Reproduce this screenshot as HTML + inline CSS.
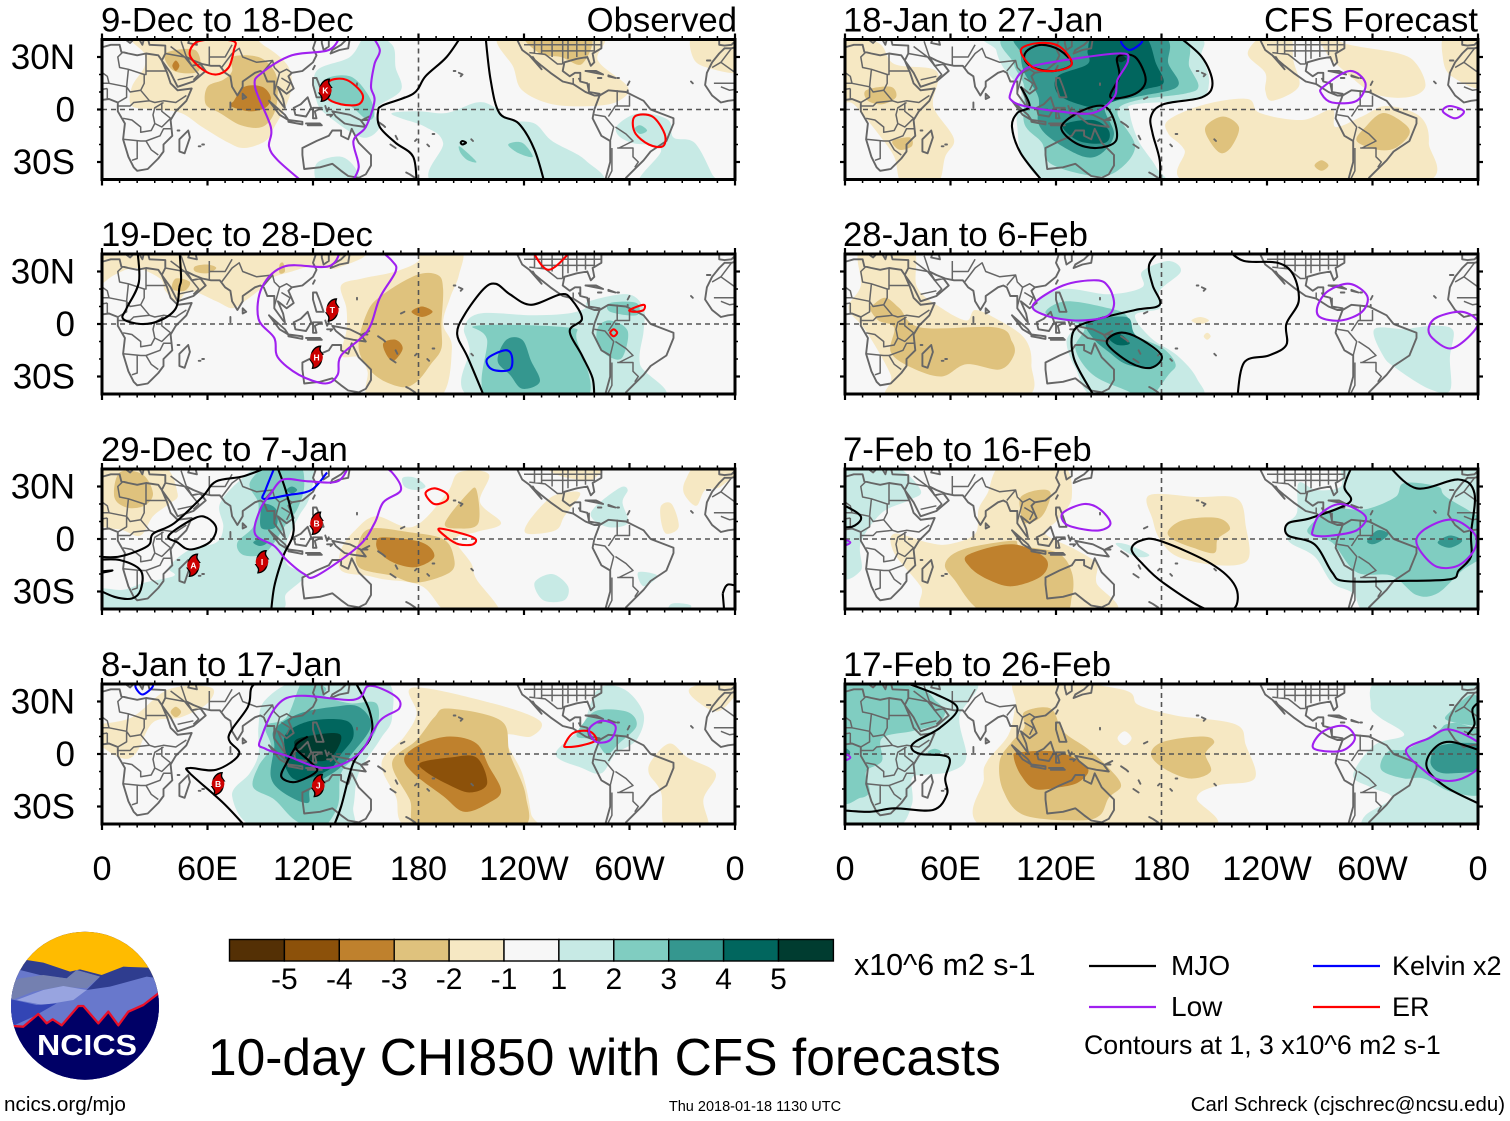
<!DOCTYPE html>
<html lang="en">
<head>
<meta charset="utf-8">
<title>10-day CHI850 with CFS forecasts</title>
<style>
html,body{margin:0;padding:0;background:#fff;width:1510px;height:1121px;overflow:hidden}
svg{display:block}
text{font-family:"Liberation Sans",sans-serif;fill:#000}
</style>
</head>
<body>
<svg id="chart" xmlns="http://www.w3.org/2000/svg" width="1510" height="1121" viewBox="0 0 1510 1121">
  <rect x="0" y="0" width="1510" height="1121" fill="#fff"/>
  <g id="panels"></g>
  <g id="colorbar"></g>
  <text x="854" y="975" font-size="30.4">x10^6 m2 s-1</text>
  <text x="208" y="1075" font-size="51.5">10-day CHI850 with CFS forecasts</text>
  <g>
    <line x1="1089" x2="1156" y1="966" y2="966" stroke="#000" stroke-width="2.2"/>
    <text x="1171" y="975" font-size="28">MJO</text>
    <line x1="1089" x2="1156" y1="1007" y2="1007" stroke="#a020f0" stroke-width="2.2"/>
    <text x="1171" y="1016" font-size="28">Low</text>
    <line x1="1313" x2="1380" y1="966" y2="966" stroke="#0000ff" stroke-width="2.2"/>
    <text x="1392" y="975" font-size="27">Kelvin x2</text>
    <line x1="1313" x2="1380" y1="1007" y2="1007" stroke="#ff0000" stroke-width="2.2"/>
    <text x="1392" y="1016" font-size="27">ER</text>
    <text x="1084" y="1054" font-size="26.7">Contours at 1, 3 x10^6 m2 s-1</text>
  </g>
  <g>
    <clipPath id="logoClip"><circle cx="85" cy="1005.7" r="74"/></clipPath>
    <g clip-path="url(#logoClip)">
      <rect x="0" y="920" width="170" height="180" fill="#000066"/>
      <g transform="translate(0,920) scale(0.33333)">
        <rect x="0" y="0" width="510" height="220" fill="#ffbb00"/>
        <path d="M0 180L80 120L130 128L210 155L240 148L305 165L370 140L445 143L510 200L510 340L0 340Z" fill="#2f3d8f"/>
        <path d="M0 240L30 190L60 150L120 165L200 175L230 150L300 170L260 210L330 200L440 170L510 180L510 340L0 340Z" fill="#6878cc"/>
        <path d="M30 190L60 175L130 165L200 175L230 150L300 170L260 205L180 200L100 215L35 240Z" fill="#7480b0"/>
        <path d="M50 240L130 210L190 198L260 210L220 240L130 255Z" fill="#98a4e0"/>
        <path d="M20 235L110 255L170 250L100 290L45 315L10 320Z" fill="#3345b5"/>
        <path d="M0 318L40 318L70 320L115 282L140 310L158 298L185 316L235 258L250 258L295 310L325 275L355 316L385 275L430 255L510 200L510 520L0 520Z" fill="#000066"/>
        <path d="M40 318L70 320L115 282L140 310L158 298L185 316L235 258L250 258L295 310L325 275L355 316L385 275L430 255L478 218" fill="none" stroke="#e8102a" stroke-width="7" stroke-linejoin="round"/>
      </g>
      <text x="37" y="1055" font-size="29" font-weight="bold" textLength="100" lengthAdjust="spacingAndGlyphs" style="fill:#fff">NCICS</text>
    </g>
  </g>
  <text x="4" y="1111" font-size="20.7">ncics.org/mjo</text>
  <text x="755" y="1111" font-size="14.5" text-anchor="middle">Thu 2018-01-18 1130 UTC</text>
  <text x="1505" y="1111" font-size="20.4" text-anchor="end">Carl Schreck (cjschrec@ncsu.edu)</text>
</svg>
<script>
// ---------- colour scale and axis labels ----------
const binColors = ['#543005','#8c510a','#bf812d','#dfc27d','#f6e8c3','#f7f7f7','#c7eae5','#80cdc1','#35978f','#01665e','#003c30'];
const binLabels = ['-5','-4','-3','-2','-1','1','2','3','4','5'];
const lonTicks = [0,60,120,180,240,300,360];
const lonTickLabels = ['0','60E','120E','180','120W','60W','0'];
const latTicks = [30,0,-30];
const latTickLabels = ['30N','0','30S'];
const lineColors = {mjo:'#000000',low:'#a020f0',kelvin:'#0000ff',er:'#ff0000'};

// ---------- panel 1: 9-Dec to 18-Dec ----------
const shade1 = [
[-1,[[19,39],[77,39],[93,36],[105,26],[108,15],[105,3],[98,-10],[93,-18],[81,-22],[72,-19],[57,-10],[45,-2],[31,0],[17,2],[17,13],[24,24],[24,32]]],
[-2,[[74,30],[89,30],[98,22],[100,11],[98,-2],[91,-10],[79,-9],[67,-2],[59,3],[60,13],[69,17],[74,22]]],
[-2,[[36,32],[53,34],[55,22],[41,22]]],
[-3,[[40,25],[42,28],[44,25],[42,22]]],
[-3,[[75,5],[81,13],[91,13],[96,7],[93,1],[84,-1],[73,2]]],
[-1,[[227,39],[283,39],[282,28],[299,13],[294,5],[280,2],[256,3],[239,11],[234,24]]],
[-2,[[241,39],[277,39],[273,26],[261,30],[249,32]]],
[-1,[[337,39],[360,39],[360,22],[344,24],[336,30]]],
[1,[[151,39],[165,37],[167,24],[170,11],[155,0],[158,-10],[148,-16],[129,-4],[122,5],[122,22],[141,30]]],
[2,[[127,17],[141,19],[151,9],[155,-2],[151,-6],[141,2],[129,5]]],
[1,[[122,-31],[136,-27],[145,-35],[144,-39],[124,-39]]],
[1,[[165,-2],[180,-1],[196,-2],[213,4],[222,2],[232,-6],[246,-8],[256,-18],[275,-29],[280,-39],[191,-39],[194,-19],[184,-10],[170,-5]]],
[2,[[203,-21],[207,-24],[213,-30],[208,-29],[204,-25]]],
[2,[[231,-20],[239,-19],[245,-27],[237,-25]]],
[1,[[294,-8],[306,-2],[322,-6],[325,-16],[337,-19],[347,-37],[349,-39],[306,-39],[318,-23],[301,-19],[293,-14]]],
[2,[[303,-11],[306,-9],[310,-12],[306,-14]]]
];
const lines1 = [
['mjo',false,[[205,39],[196,30],[184,19],[177,9],[160,2.5],[157,-1],[158,-10],[167,-19],[177,-27],[179,-39]]],
['mjo',false,[[218,39],[221,17],[226,-2],[237,-8],[246,-23],[252,-39]]],
['mjo',true,[[204,-19],[205,-18],[207,-19],[205,-20]]],
['low',false,[[136,39],[129,34],[108,31],[91,21],[87,13],[96,-10],[95,-21],[100,-29],[116,-39]]],
['low',false,[[153,39],[158,34],[155,26],[153,13],[155,5],[150,-10],[143,-18],[146,-33],[141,-39]]],
['er',true,[[53,38],[62,40],[75,39],[75,34],[72,24],[65,20],[57,23],[50,31]]],
['er',true,[[129,16],[139,17],[148,9],[146,3],[136,3],[128,7]]],
['er',true,[[303,-4],[313,-4],[320,-14],[319,-21],[311,-20],[303,-13]]]
];
const storms1 = [['K',127,11]];

// ---------- panel 2: 19-Dec to 28-Dec ----------
const shade2 = [
[-1,[[0,39],[141,39],[134,32],[120,33],[108,30],[96,26],[89,19],[81,13],[74,9],[65,13],[50,19],[43,13],[36,19],[33,26],[19,32],[7,28],[0,22]]],
[-2,[[53,33],[60,34],[65,32],[60,29],[53,30]]],
[-2,[[42,26],[50,24],[47,19],[40,20]]],
[-2,[[101,34],[103,35],[104,30],[101,29]]],
[-1,[[180,39],[204,39],[203,28],[198,15],[194,0],[199,-14],[191,-39],[153,-39],[151,-27],[146,-19],[136,-18],[139,-4],[139,9],[136,22],[148,26],[167,30],[180,36]]],
[-2,[[179,28],[191,28],[194,20],[193,0],[193,-14],[187,-23],[179,-33],[170,-36],[155,-29],[146,-14],[151,7],[160,17]]],
[-3,[[176,7],[182,10],[188,7],[182,4]]],
[-3,[[160,-11],[167,-9],[171,-14],[166,-21],[162,-18]]],
[1,[[206,-2],[215,6],[244,5],[265,6],[275,9],[277,13],[299,17],[308,9],[308,-4],[306,-23],[316,-39],[213,-39],[209,-14]]],
[2,[[213,-1],[265,-2],[270,-9],[275,-39],[220,-39],[219,-9]]],
[3,[[230,-9],[239,-9],[244,-21],[249,-33],[239,-37],[232,-29],[225,-21]]],
[2,[[282,-2],[289,2],[299,-4],[296,-19],[289,-19],[282,-12]]],
[2,[[289,12],[304,12],[304,5],[289,7]]]
];
const lines2 = [
['mjo',false,[[20,39],[21,24],[14,9],[12,3],[22,0],[33,2],[42,9],[44,21],[45,26],[44,39]]],
['mjo',false,[[218,-39],[208,-19],[202,-6],[206,5],[217,20],[224,23],[232,17],[244,11],[261,17],[267,14],[273,3],[266,-4],[273,-18],[279,-31],[280,-39]]],
['low',false,[[136,39],[129,33],[104,33],[91,21],[89,3],[98,-8],[100,-19],[112,-29],[127,-34],[134,-29],[136,-18],[151,-4],[158,15],[167,30],[165,36],[157,39]]],
['kelvin',true,[[219,-20],[229,-15],[233,-18],[232,-26],[222,-26]]],
['er',false,[[244,39],[254,31],[268,39]]],
['er',true,[[300,8],[308,11],[308,8],[303,7]]],
['er',true,[[289,-5],[291,-3],[293,-5],[291,-7]]]
];
const storms2 = [['T',131,8],['H',122,-19]];

// ---------- panel 3: 29-Dec to 7-Jan ----------
const shade3 = [
[-1,[[0,39],[33,39],[43,26],[38,20],[29,13],[22,2],[12,5],[0,11]]],
[-2,[[10,38],[23,37],[29,26],[24,19],[14,18],[7,24]]],
[1,[[0,-39],[0,-29],[12,-29],[24,-25],[41,-21],[38,-16],[50,-6],[65,-2],[69,7],[67,20],[79,34],[93,39],[119,39],[118,24],[112,13],[105,-2],[105,-14],[115,-21],[105,-31],[93,-39]]],
[2,[[84,32],[96,39],[112,39],[115,30],[111,17],[105,9],[98,-2],[91,-9],[80,-9],[77,-2],[86,7],[89,20]]],
[3,[[92,20],[99,17],[99,7],[91,6],[90,13]]],
[3,[[86,-2],[90,0],[94,-2],[90,-4]]],
[3,[[105,28],[108,30],[111,28],[108,26]]],
[1,[[171,35],[178,35],[184,30],[178,28],[172,30]]],
[1,[[278,15],[294,29],[299,28],[296,21],[299,9],[287,7]]],
[1,[[246,-25],[256,-20],[265,-27],[263,-35],[251,-35]]],
[1,[[305,-19],[316,-21],[308,-27]]],
[1,[[324,-37],[335,-38],[330,-41],[322,-41]]],
[-1,[[242,9],[253,22],[261,26],[272,26],[263,13],[258,5],[242,3]]],
[-1,[[253,39],[284,39],[279,34],[270,34],[258,37]]],
[-1,[[318,19],[324,20],[328,7],[321,3],[318,10]]],
[-1,[[332,34],[340,39],[360,39],[352,30],[343,28],[338,19],[331,26]]],
[-1,[[144,5],[156,13],[177,7],[196,26],[203,38],[220,37],[215,21],[227,9],[213,4],[201,0],[210,-14],[213,-23],[226,-39],[198,-39],[182,-27],[160,-23],[151,-21],[136,-18],[136,-6]]],
[-2,[[146,-2],[153,6],[174,4],[194,0],[200,-10],[198,-19],[179,-25],[165,-21],[146,-16]]],
[-2,[[195,9],[208,26],[213,28],[214,9],[203,6]]],
[-3,[[156,-2],[160,1],[182,-2],[189,-10],[179,-16],[167,-14],[158,-8]]]
];
const lines3 = [
['mjo',false,[[99,39],[81,36],[65,33],[57,24],[41,9],[29,3],[26,-4],[10,-10],[0,-10]]],
['mjo',true,[[38,2],[53,12],[60,12],[65,6],[61,-2],[50,-6],[43,-2]]],
['mjo',false,[[99,39],[105,26],[109,5],[103,-10],[98,-27],[96,-39]]],
['mjo',false,[[0,-12],[10,-12],[22,-18],[22,-29],[17,-34],[7,-33],[0,-28]]],
['mjo',false,[[0,-19],[6,-18],[0,-20]]],
['mjo',false,[[353,-31],[356,-26],[360,-28]]],
['mjo',false,[[353,-31],[354,-39]]],
['kelvin',false,[[99,39],[93,28],[92,23],[105,25],[119,28],[128,38]]],
['low',false,[[96,26],[103,34],[117,33],[134,33],[141,39]]],
['low',false,[[96,26],[90,17],[87,3],[98,-4],[105,-12],[115,-20],[122,-21],[146,-4],[155,9],[160,21],[170,28],[165,38],[157,39]]],
['er',true,[[184,26],[189,29],[196,26],[196,22],[189,20]]],
['er',true,[[192,6],[211,1],[211,-3],[203,-3],[196,1]]]
];
const storms3 = [['A',52,-15],['I',91,-13],['B',122,9]];

// ---------- panel 4: 8-Jan to 17-Jan ----------
const shade4 = [
[-1,[[0,16],[17,21],[38,37],[62,38],[60,29],[45,21],[29,18],[19,0],[10,-2],[0,8]]],
[-2,[[39,24],[42,27],[45,24],[42,21]]],
[1,[[93,31],[115,39],[160,39],[165,21],[158,8],[146,-11],[143,-30],[139,-39],[89,-39],[74,-24],[84,-11],[89,0],[89,16]]],
[2,[[115,39],[127,38],[127,33],[141,29],[156,29],[156,14],[146,0],[136,-11],[134,-30],[124,-39],[110,-38],[98,-26],[86,-19],[89,-7],[96,4],[93,16],[105,21]]],
[3,[[98,4],[98,14],[112,23],[132,27],[146,27],[153,16],[142,0],[134,-9],[119,-19],[117,-28],[103,-22],[96,-13]]],
[4,[[104,2],[105,12],[119,19],[139,19],[143,10],[136,0],[129,-9],[112,-15],[105,-9]]],
[5,[[110,4],[112,9],[132,12],[136,8],[129,-3],[117,-3]]],
[1,[[258,0],[273,16],[282,37],[297,37],[308,23],[304,8],[292,0],[284,-11],[273,-8]]],
[2,[[274,18],[282,25],[299,24],[304,16],[294,6],[287,0],[280,8],[270,10]]],
[-1,[[177,38],[222,29],[249,19],[244,10],[229,10],[239,-11],[244,-34],[244,-39],[177,-39],[167,-24],[159,-5],[172,10],[179,23]]],
[-2,[[197,26],[227,19],[232,0],[241,-24],[237,-39],[182,-39],[175,-26],[165,-5],[179,8],[189,21]]],
[-3,[[172,-2],[182,6],[198,10],[213,6],[220,-7],[227,-21],[220,-28],[206,-33],[194,-24],[177,-11]]],
[-4,[[181,-5],[198,-2],[213,-2],[219,-17],[209,-22],[196,-17],[184,-10]]],
[-1,[[313,-3],[323,6],[333,-2],[349,-11],[342,-26],[344,-39],[321,-39],[318,-22],[311,-11]]],
[-1,[[335,38],[360,39],[352,25],[340,29]]]
];
const lines4 = [
['mjo',false,[[91,39],[85,38],[83,27],[72,10],[78,0],[65,-9],[50,-8],[50,-11],[69,-28],[83,-39]]],
['mjo',false,[[143,39],[152,25],[153,10],[143,-5],[136,-30],[131,-39]]],
['mjo',false,[[117,10],[110,4],[119,-5],[122,-10],[110,-16],[102,-13],[105,-5],[110,4]]],
['low',true,[[90,8],[105,32],[143,31],[152,39],[167,33],[169,26],[158,19],[146,0],[127,-8],[105,-1],[93,3]]],
['kelvin',true,[[19,39],[23,34],[29,39],[24,41]]],
['er',true,[[263,5],[268,12],[277,13],[281,8],[273,5],[265,4]]],
['low',true,[[277,14],[284,19],[292,16],[289,8],[281,7]]]
];
const storms4 = [['B',66,-17],['J',123,-18]];

// ---------- panel 5: 18-Jan to 27-Jan ----------
const shade5 = [
[-1,[[0,39],[19,38],[28,26],[52,22],[50,5],[52,-2],[62,-17],[57,-27],[52,-39],[33,-39],[28,-27],[19,-14],[5,3],[0,7]]],
[-2,[[12,11],[26,13],[29,7],[21,3],[13,5]]],
[-2,[[27,-18],[37,-16],[38,-21],[31,-23]]],
[-1,[[184,-6],[205,3],[229,6],[236,-2],[260,-6],[277,0],[279,-10],[294,-4],[308,2],[327,-4],[332,-19],[325,-39],[200,-39],[193,-23],[184,-14]]],
[-2,[[205,-10],[215,-4],[224,-10],[220,-21],[214,-25],[208,-19]]],
[-2,[[267,-32],[271,-29],[275,-32],[271,-35]]],
[-2,[[296,-10],[306,-2],[318,-8],[321,-14],[313,-22],[303,-23],[291,-18]]],
[-1,[[229,32],[239,39],[253,39],[255,28],[258,13],[243,5],[239,11],[239,21]]],
[-1,[[270,39],[287,37],[315,32],[325,26],[330,13],[320,7],[301,9],[284,22],[274,32]]],
[-1,[[342,39],[360,39],[360,13],[345,19],[340,30]]],
[1,[[86,39],[193,39],[203,30],[207,15],[200,6],[165,3],[162,-2],[167,-18],[177,-33],[179,-39],[121,-39],[102,-29],[98,-10],[98,0],[100,11],[90,24],[86,34]]],
[2,[[95,39],[186,39],[196,24],[201,13],[193,9],[165,5],[155,-2],[165,-21],[155,-35],[141,-38],[117,-31],[112,-19],[102,-8],[102,13],[96,26]]],
[3,[[102,39],[177,39],[184,26],[189,13],[165,7],[148,2],[153,-14],[146,-25],[136,-27],[119,-18],[110,-8],[110,7],[102,21],[100,32]]],
[4,[[143,39],[169,39],[177,26],[181,15],[169,11],[145,2],[133,3],[121,9],[121,19],[138,26],[138,34]]],
[4,[[124,-9],[141,-6],[150,-12],[148,-19],[133,-18]]],
[5,[[154,29],[157,31],[160,29],[157,27]]]
];
const lines5 = [
['mjo',false,[[188,39],[203,30],[209,15],[203,7],[181,3],[174,-4],[175,-14],[179,-29],[179,-39]]],
['mjo',false,[[114,-39],[100,-25],[95,-10],[98,-2],[105,2],[100,13]]],
['mjo',true,[[104,34],[112,37],[122,34],[129,26],[119,22],[107,24],[102,29]]],
['mjo',true,[[155,30],[165,30],[171,17],[165,9],[151,7],[156,19]]],
['mjo',true,[[123,-10],[134,-1],[147,2],[153,-6],[154,-18],[143,-22],[131,-19]]],
['low',true,[[94,9],[100,21],[112,26],[155,32],[161,28],[155,17],[153,7],[141,-2],[121,-1],[102,2],[95,5]]],
['er',true,[[100,34],[110,38],[122,36],[129,26],[119,22],[107,24]]],
['kelvin',true,[[157,39],[162,34],[169,39],[163,41]]],
['low',true,[[272,13],[287,22],[296,15],[291,5],[277,4],[271,9]]],
['low',true,[[340,-1],[344,2],[352,-1],[347,-5]]]
];
const storms5 = [];

// ---------- panel 6: 28-Jan to 6-Feb ----------
const shade6 = [
[-1,[[9,39],[38,39],[41,21],[55,9],[69,2],[74,8],[86,3],[102,-8],[106,-23],[100,-39],[28,-39],[26,-29],[12,-4],[2,9],[9,22]]],
[-2,[[16,11],[23,15],[31,9],[43,-2],[86,-2],[95,-10],[96,-18],[88,-26],[69,-23],[55,-30],[38,-25],[26,-16],[28,-2],[19,2],[14,9]]],
[-1,[[197,2],[202,4],[207,2],[202,0]]],
[-1,[[204,-7],[206,-5],[208,-7],[206,-9]]],
[1,[[107,11],[124,20],[150,17],[169,21],[169,30],[184,36],[191,30],[179,19],[179,9],[165,5],[174,-8],[189,-18],[200,-31],[200,-39],[145,-39],[131,-25],[126,-10],[131,0],[117,3]]],
[2,[[114,7],[126,13],[150,9],[160,5],[165,-6],[181,-14],[188,-23],[184,-29],[172,-39],[160,-38],[141,-29],[131,-14],[136,-2],[122,3]]],
[3,[[138,1],[160,4],[165,-6],[179,-18],[174,-25],[160,-23],[150,-16],[141,-8]]],
[4,[[150,-8],[155,-5],[162,-11],[155,-12]]],
[1,[[301,-3],[318,-3],[325,-2],[337,-1],[346,-4],[344,-19],[344,-38],[332,-37],[313,-25],[306,-18]]]
];
const lines6 = [
['mjo',false,[[180,39],[173,34],[175,22],[179,11],[165,8],[141,2],[130,-4],[130,-19],[138,-35],[143,-39]]],
['mjo',true,[[149,-11],[156,-5],[167,-8],[180,-18],[174,-25],[162,-22]]],
['mjo',false,[[217,39],[227,36],[246,35],[255,28],[258,13],[251,0],[251,-12],[241,-18],[227,-22],[223,-39]]],
['low',true,[[107,11],[124,22],[143,25],[150,21],[153,11],[148,4],[131,2],[114,5]]],
['low',true,[[269,11],[275,19],[287,23],[297,16],[294,7],[282,2],[270,4]]],
['low',true,[[332,-2],[337,4],[351,7],[360,1],[354,-8],[344,-14],[334,-8]]]
];
const storms6 = [];

// ---------- panel 7: 7-Feb to 16-Feb ----------
const shade7 = [
[1,[[0,39],[26,39],[43,28],[36,22],[21,15],[9,-2],[9,-18],[0,-18]]],
[2,[[0,1],[3,-2],[0,-5]]],
[-1,[[90,39],[123,39],[129,24],[121,11],[114,3],[131,-6],[143,-14],[143,-25],[150,-39],[52,-39],[43,-27],[28,-8],[28,3],[47,-2],[59,-3],[74,3],[76,17],[81,26]]],
[-2,[[100,24],[110,28],[117,26],[112,13],[102,9],[100,15]]],
[-2,[[57,-14],[67,-6],[95,-1],[100,-4],[121,-8],[129,-19],[129,-33],[122,-39],[81,-39],[62,-23]]],
[-3,[[70,-9],[95,-3],[114,-11],[112,-21],[95,-27],[81,-23],[71,-16]]],
[-1,[[173,25],[200,24],[223,23],[228,7],[229,-12],[212,-15],[189,-10],[179,0],[175,11]]],
[-2,[[184,5],[193,11],[212,12],[219,6],[212,0],[210,-8],[198,-5],[186,0]]],
[1,[[154,-3],[160,-3],[173,-9],[165,-10]]],
[1,[[251,5],[253,-2],[267,-10],[277,-25],[289,-31],[301,-39],[360,-39],[360,39],[308,39],[284,39],[282,30],[268,28],[258,32],[257,15],[251,9]]],
[2,[[264,7],[277,17],[296,17],[313,24],[318,32],[337,30],[342,24],[360,9],[360,-8],[351,-18],[337,-31],[325,-32],[311,-21],[291,-19],[277,-2],[265,2]]],
[3,[[297,-1],[303,5],[309,3],[305,-1],[300,-3]]],
[3,[[337,-2],[344,2],[351,-1],[344,-5]]]
];
const lines7 = [
['mjo',false,[[0,21],[7,15],[9,11],[4,7],[0,7]]],
['mjo',true,[[163,-6],[168,-1],[179,-1],[208,-14],[222,-27],[221,-40],[205,-40],[181,-25],[169,-14]]],
['mjo',false,[[289,39],[284,30],[287,21],[265,12],[252,9],[252,2],[267,-3],[277,-19],[284,-24],[313,-24],[344,-23],[349,-18],[356,-10],[356,3],[358,26],[349,34],[325,29],[308,39]]],
['low',true,[[124,15],[136,20],[145,17],[151,9],[145,5],[133,6],[125,9]]],
['low',true,[[266,5],[270,14],[282,20],[296,13],[291,5],[277,2],[267,2]]],
['low',true,[[325,0],[332,7],[346,11],[358,3],[358,-6],[349,-15],[337,-16],[328,-8]]],
['low',false,[[0,1],[3,-2],[0,-5]]]
];
const storms7 = [];

// ---------- panel 8: 17-Feb to 26-Feb ----------
const shade8 = [
[1,[[0,39],[72,39],[65,21],[69,-2],[60,-10],[45,-12],[38,-14],[38,-29],[28,-39],[0,-39]]],
[2,[[0,39],[40,38],[52,30],[57,24],[52,17],[38,13],[21,9],[21,-4],[12,-10],[14,-21],[9,-25],[0,-23]]],
[2,[[47,1],[51,3],[55,1],[51,-1]]],
[3,[[0,5],[3,1],[0,-3]]],
[-1,[[100,39],[157,37],[167,28],[188,22],[222,17],[228,5],[233,-14],[212,-18],[200,-25],[205,-39],[83,-39],[79,-14],[81,-4],[93,11],[97,28]]],
[0,[[155,9],[159,13],[163,9],[159,5]]],
[-2,[[102,24],[117,26],[124,13],[138,3],[150,-8],[157,-18],[150,-25],[145,-35],[133,-38],[102,-35],[90,-21],[88,-4],[95,7],[102,15]]],
[-2,[[174,0],[181,7],[203,10],[210,7],[205,0],[208,-10],[196,-14],[181,-8]]],
[-3,[[96,-2],[99,1],[122,1],[138,-8],[133,-16],[122,-19],[108,-20],[100,-12]]],
[1,[[306,39],[360,39],[360,-39],[303,-39],[294,-39],[296,-35],[311,-25],[299,-19],[289,-12],[301,5],[318,11],[304,21],[299,28]]],
[2,[[305,-4],[310,2],[320,3],[337,13],[342,17],[351,17],[360,9],[360,-21],[346,-22],[329,-14],[318,-14],[306,-10]]],
[2,[[344,24],[358,34],[360,17],[343,19]]],
[3,[[333,-4],[339,5],[360,5],[360,-8],[346,-11],[337,-10]]]
];
const lines8 = [
['mjo',false,[[28,39],[52,34],[64,26],[54,15],[40,7],[38,3],[43,0],[59,-2],[57,-14],[58,-23],[50,-32],[28,-31],[14,-33],[0,-32]]],
['mjo',false,[[360,1],[344,7],[334,2],[331,-8],[342,-19],[360,-30]]],
['mjo',false,[[360,32],[357,26],[358,17],[354,11]]],
['low',true,[[266,5],[272,13],[284,16],[290,9],[283,2],[270,2]]],
['low',true,[[319,2],[332,9],[344,14],[362,5],[362,-6],[351,-14],[339,-15],[330,-10]]],
['low',false,[[0,2],[3,-2],[0,-5]]]
];
const storms8 = [];

// ---------- panel arrangement ----------
const panelTitles = ['9-Dec to 18-Dec','19-Dec to 28-Dec','29-Dec to 7-Jan','8-Jan to 17-Jan','18-Jan to 27-Jan','28-Jan to 6-Feb','7-Feb to 16-Feb','17-Feb to 26-Feb'];
const panelShades = [shade1,shade2,shade3,shade4,shade5,shade6,shade7,shade8];
const panelLines = [lines1,lines2,lines3,lines4,lines5,lines6,lines7,lines8];
const panelStorms = [storms1,storms2,storms3,storms4,storms5,storms6,storms7,storms8];

// ---------- geography (lon, lat) ----------
const coastLines = [
[[-6,35],[-2,35],[5,37],[10,37],[11,33],[15,32],[20,31],[25,32],[32,31],[34,28],[37,21],[39,15],[43,11],[51,12],[48,5],[42,-1],[39,-6],[40,-15],[35,-20],[35,-24],[32,-28],[26,-34],[20,-35],[18,-33],[15,-27],[12,-17],[13,-8],[9,-1],[9,4],[4,6],[-4,5],[-8,4],[-13,8],[-17,14],[-16,21],[-13,27],[-9,32],[-6,35]],
[[49,-12],[50,-16],[47,-25],[44,-24],[44,-17],[49,-12]],
[[-9,41],[-9,37],[-6,36.5],[-2,37],[0,39],[3,42]],
[[8,44],[16,38],[18,40],[13,45]],[[20,42],[23,37],[24,41]],
[[26,41],[27,37],[36,36.5],[36,32],[34,28]],
[[34,28],[39,21],[43,13],[52,16],[59,22],[56,26],[51,25],[48,30],[52,28],[57,26],[62,25],[67,25],[70,21],[73,19],[74,13],[77,8],[80,13],[80,16],[87,21],[90,22],[92,21],[94,16],[98,16],[98,9],[103,2],[104,1],[103,6],[100,13],[105,9],[109,12],[106,19],[108,21],[114,22],[120,27],[122,31],[120,35],[122,41]],
[[50,41],[49,38],[54,37],[53,41]],
[[80,9],[82,7],[80,6],[80,9]],
[[125,41],[125,38],[126,34],[129,36],[129,41]],
[[130,32],[135,34],[140,35],[141,41]],[[130,32],[131,34],[136,37],[140,41]],
[[121,25],[120,23],[121,25]],
[[120,18],[122,18],[124,13],[126,7],[122,7],[120,14],[120,18]],
[[109,1],[113,3],[117,7],[119,1],[116,-4],[110,-3],[109,1]],
[[95,5],[104,-3],[106,-6],[101,-3],[95,5]],
[[106,-6],[114,-7],[114,-8.5],[106,-7],[106,-6]],
[[116,-8],[124,-8],[125,-9],[117,-9]],
[[120,1],[125,1],[121,-1],[122,-5],[120,-5],[120,1]],
[[127,2],[128,-1],[129,1]],[[128,-3],[131,-3],[130,-4]],
[[131,-1],[141,-3],[147,-6],[150,-10],[143,-9],[138,-8],[133,-4],[131,-1]],
[[152,-4],[148,-6],[151,-6]],
[[114,-22],[122,-18],[129,-15],[131,-12],[136,-12],[136,-15],[140,-17],[142,-11],[146,-19],[153,-26],[153,-32],[150,-37],[146,-39],[140,-38],[136,-35],[131,-31],[124,-33],[115,-34],[114,-26],[114,-22]],
[[145,-41],[148,-41]],
[[173,-36],[175,-37],[178,-39],[176,-41]],
[[236,41],[236,40],[239,34],[243,31],[250,25],[255,21],[262,16],[268,14.5],[275,10],[280,8],[283,8]],
[[243,31],[250,23],[247,27],[245,30]],
[[283,9],[277,10],[276,15],[272,16],[272,21],[269,21],[266,19],[262,22],[263,27],[270,29],[276,30],[278,25],[280,27],[279,32],[284,35],[284,41]],
[[275,22],[285,20],[281,22],[275,22]],[[288,19],[292,18],[288,19.5]],[[282,18],[284,18]],[[293,18],[294,18]],
[[283,8],[288,11],[298,10],[308,5],[312,0],[325,-5],[325,-8],[321,-18],[312,-24],[308,-29],[302,-35],[298,-39],[298,-41]],
[[286,-41],[289,-30],[289,-18],[284,-15],[279,-5],[280,0],[283,8]],
[[204,19],[205,20],[203,21]],[[200,22],[201,22]],
[[157,-7],[160,-9],[161,-10]],[[167,-15],[168,-17]],[[178,-18],[179,-17]],[[185,-20],[186,-21]],[[164,-20],[167,-22]],
[[145,14],[145,15]],[[170,6],[172,7]],[[188,-14],[189,-14]],[[210,-17],[211,-18]],[[57,-20],[58,-20]],[[55,-21],[56,-21]],[[73,4],[73,1]],[[43,-12],[44,-12]],[[-25,16],[-24,15]],[[-16,28],[-14,28]],[[300,16],[299,14]],[[299,11],[299,10]]
];
const borderLines = [
[[25,32],[25,20],[24,20],[24,15],[22,11],[27,5],[30,4],[35,5],[42,4],[48,8]],
[[12,33],[9,30],[10,24],[15,23],[24,20]],
[[-2,35],[-8,27],[3,19],[4,15],[14,13],[15,23]],
[[25,22],[37,22]],[[14,13],[16,10],[22,11]],[[3,12],[3,6]],[[9,4],[14,7],[14,13]],
[[9,2],[16,2],[18,4],[27,5]],
[[12,-5],[17,-6],[22,-10],[22,-13],[28,-12],[30,-8],[29,-3],[30,1],[35,4]],
[[12,-17],[22,-18],[25,-18],[33,-15],[35,-11],[40,-11]],
[[20,-18],[20,-28],[17,-29]],[[25,-18],[28,-23],[32,-26]],
[[30,-8],[34,-10],[39,-5],[34,-1],[34,4]],[[-8,13],[-3,11],[3,12]],[[-12,15],[-5,15],[4,15]],[[-8,27],[-13,24]],
[[36,32],[47,30],[55,20],[52,17]],[[43,17],[52,19]],[[39,36],[47,30]],[[45,39],[48,30]],
[[61,36],[61,25]],[[61,30],[70,30],[74,37]],[[68,24],[74,32],[78,35],[80,30],[88,27],[97,28],[92,22]],
[[97,28],[98,24],[101,21],[105,23],[108,21]],[[101,21],[98,10]],[[102,18],[107,15],[105,11]],
[[298,2],[292,2],[288,-4]],[[292,-10],[298,-14],[302,-18],[294,-22]],[[289,-18],[291,-10],[286,-4],[280,-3]],
[[293,-22],[302,-22],[302,-27],[305,-30],[303,-33]],[[293,11],[293,2],[300,2],[300,8]],[[290,-22],[290,-35],[287,-41]],
[[243,32.5],[252,31.5],[254,30],[259,26],[262,26]],[[271,18],[272,16]],[[268,14.5],[268,18]],[[277,11],[277,15]],
[[246,32],[246,41]],[[250,32],[250,41]],[[256,30],[256,41]],[[262,26],[262,41]],[[265,29],[265,41]],[[270,30],[270,41]],[[275,31],[275,41]],[[280,33],[280,41]],
[[240,37],[284,37]],[[250,33.5],[280,33.5]],[[241,40],[284,40]]
];

// ---------- scales and drawing ----------
const NS = 'http://www.w3.org/2000/svg';
const LEFT_X = [102,845];
const TOP_Y = [39.5,254,469,684];
const PW = 633;
const PH = 140;
function xScale(x0,lon){return x0+lon*PW/360;}
function yScale(y0,lat){return y0+(40-lat)*PH/80;}
function edgeLon(v){return v<=0?v-4:(v>=360?v+4:v);}
function edgeLat(v){return v>=39?43:(v<=-39?-43:v);}
function smoothPath(pts,closed){
  const n=pts.length;
  let d='M'+pts[0][0].toFixed(1)+' '+pts[0][1].toFixed(1);
  const last=closed?n:n-1;
  for(let i=0;i<last;i++){
    const p0=closed?pts[(i-1+n)%n]:pts[Math.max(i-1,0)];
    const p1=pts[i];
    const p2=pts[(i+1)%n];
    const p3=closed?pts[(i+2)%n]:pts[Math.min(i+2,n-1)];
    d+='C'+(p1[0]+(p2[0]-p0[0])/6).toFixed(1)+' '+(p1[1]+(p2[1]-p0[1])/6).toFixed(1)+' '+(p2[0]-(p3[0]-p1[0])/6).toFixed(1)+' '+(p2[1]-(p3[1]-p1[1])/6).toFixed(1)+' '+p2[0].toFixed(1)+' '+p2[1].toFixed(1);
  }
  return closed?d+'Z':d;
}
function make(tag,attrs,parent){
  const el=document.createElementNS(NS,tag);
  for(const k in attrs){el.setAttribute(k,attrs[k]);}
  parent.appendChild(el);
  return el;
}
function levelColor(level){
  return binColors[5+level];
}
function geoPath(sets,x0,y0){
  let d='';
  [0,360].forEach(function(shift){
    sets.forEach(function(line){
      line.forEach(function(p,i){
        d+=(i?'L':'M')+xScale(x0,p[0]+shift).toFixed(1)+' '+yScale(y0,p[1]).toFixed(1);
      });
    });
  });
  return d;
}

const panelsRoot=document.getElementById('panels');
panelTitles.forEach(function(title,idx){
  const col=idx<4?0:1;
  const row=idx%4;
  const x0=LEFT_X[col];
  const y0=TOP_Y[row];
  const g=make('g',{},panelsRoot);
  
  

  const clip=make('clipPath',{id:'clip'+idx},g);
  make('rect',{x:x0,y:y0,width:PW,height:PH},clip);
  const inner=make('g',{'clip-path':'url(#clip'+idx+')'},g);
  const bg=make('rect',{x:x0,y:y0,width:PW,height:PH,fill:binColors[5]},inner);
  
  

  panelShades[idx].forEach(function(item){
    const pts=item[1].map(function(p){return [xScale(x0,edgeLon(p[0])),yScale(y0,edgeLat(p[1]))];});
    const shape=make('path',{d:smoothPath(pts,true),fill:levelColor(item[0])},inner);
    
    
  });

  const borders=make('path',{d:geoPath(borderLines,x0,y0),fill:'none',stroke:'#666','stroke-width':1.5,'stroke-linejoin':'round'},inner);
  
  
  const coast=make('path',{d:geoPath(coastLines,x0,y0),fill:'none',stroke:'#666','stroke-width':1.9,'stroke-linejoin':'round','stroke-linecap':'round'},inner);
  
  

  const eq=make('line',{x1:x0,x2:x0+PW,y1:yScale(y0,0),y2:yScale(y0,0),stroke:'#555','stroke-width':1.6,'stroke-dasharray':'5 4'},inner);
  
  
  const dl=make('line',{x1:xScale(x0,180),x2:xScale(x0,180),y1:y0,y2:y0+PH,stroke:'#555','stroke-width':1.6,'stroke-dasharray':'5 4'},inner);
  
  

  panelLines[idx].forEach(function(item){
    const pts=item[2].map(function(p){
      return item[1]?[xScale(x0,p[0]),yScale(y0,p[1])]:[xScale(x0,edgeLon(p[0])),yScale(y0,edgeLat(p[1]))];
    });
    const ln=make('path',{d:smoothPath(pts,item[1]),fill:'none',stroke:lineColors[item[0]],'stroke-width':2.1},inner);
    
    
  });

  panelStorms[idx].forEach(function(s){
    const cx=xScale(x0,s[1]);
    const cy=yScale(y0,s[2]);
    const st=make('g',{},inner);
    
    
    make('path',{d:'M'+(cx-5)+' '+(cy-3)+'C'+(cx-4)+' '+(cy-8)+' '+cx+' '+(cy-11)+' '+(cx+4)+' '+(cy-11)+'C'+(cx+3)+' '+(cy-8)+' '+(cx+3)+' '+(cy-7)+' '+(cx+6)+' '+(cy-3)+'Z',fill:'#cc0000',stroke:'#000','stroke-width':1.4},st);
    make('path',{d:'M'+(cx+5)+' '+(cy+3)+'C'+(cx+4)+' '+(cy+8)+' '+cx+' '+(cy+11)+' '+(cx-4)+' '+(cy+11)+'C'+(cx-3)+' '+(cy+8)+' '+(cx-3)+' '+(cy+7)+' '+(cx-6)+' '+(cy+3)+'Z',fill:'#cc0000',stroke:'#000','stroke-width':1.4},st);
    make('circle',{cx:cx,cy:cy,r:6.3,fill:'#cc0000'},st);
    const lt=make('text',{x:cx,y:cy+3,'font-size':8.5,'font-weight':'bold','text-anchor':'middle',style:'fill:#fff'},st);
    lt.textContent=s[0];
  });

  // frame and ticks
  const frame=make('rect',{x:x0,y:y0,width:PW,height:PH,fill:'none',stroke:'#000','stroke-width':3},g);
  
  
  for(let lon=0;lon<=360;lon+=10){
    const major=lon%60===0;
    const len=major?6:3.5;
    const xx=xScale(x0,lon);
    const t1=make('line',{x1:xx,x2:xx,y1:y0,y2:y0-len,stroke:'#000','stroke-width':major?2.2:1.5},g);
    
    
    const t2=make('line',{x1:xx,x2:xx,y1:y0+PH,y2:y0+PH+len,stroke:'#000','stroke-width':major?2.2:1.5},g);
    
    
  }
  for(let lat=-30;lat<=30;lat+=10){
    const major=lat%30===0;
    const len=major?5:3;
    const yy=yScale(y0,lat);
    const t3=make('line',{x1:x0,x2:x0-len,y1:yy,y2:yy,stroke:'#000','stroke-width':major?2.2:1.5},g);
    
    
    const t4=make('line',{x1:x0+PW,x2:x0+PW+len,y1:yy,y2:yy,stroke:'#000','stroke-width':major?2.2:1.5},g);
    
    
  }

  const tt=make('text',{x:x0-(col?2:1),y:y0-8,'font-size':34.7},g);
  
  
  tt.textContent=title;

  if(col===0){
    latTicks.forEach(function(lat,i){
      const lb=make('text',{x:75,y:yScale(y0,lat)+12,'font-size':35,'text-anchor':'end'},g);
      
      
      lb.textContent=latTickLabels[i];
    });
  }
  if(row===3){
    lonTicks.forEach(function(lon,i){
      const lb=make('text',{x:xScale(x0,lon),y:880,'font-size':34.3,'text-anchor':'middle'},g);
      
      
      lb.textContent=lonTickLabels[i];
    });
  }
  if(idx===0){
    const o=make('text',{x:x0+PW+2,y:y0-8,'font-size':34.7,'text-anchor':'end'},g);
    
    
    o.textContent='Observed';
  }
  if(idx===4){
    const f=make('text',{x:x0+PW,y:y0-8,'font-size':34.7,'text-anchor':'end'},g);
    
    
    f.textContent='CFS Forecast';
  }
});

// ---------- colorbar ----------
const cb=document.getElementById('colorbar');
const CB_X=229.5;
const CB_W=54.9;
binColors.forEach(function(c,i){
  const r=make('rect',{x:CB_X+i*CB_W,y:939.5,width:CB_W,height:21.5,fill:c,stroke:'#000','stroke-width':1.4},cb);
  
  
});
binLabels.forEach(function(t,i){
  const lb=make('text',{x:CB_X+(i+1)*CB_W,y:989,'font-size':30,'text-anchor':'middle'},cb);
  
  
  lb.textContent=t;
});
</script>
</body>
</html>
